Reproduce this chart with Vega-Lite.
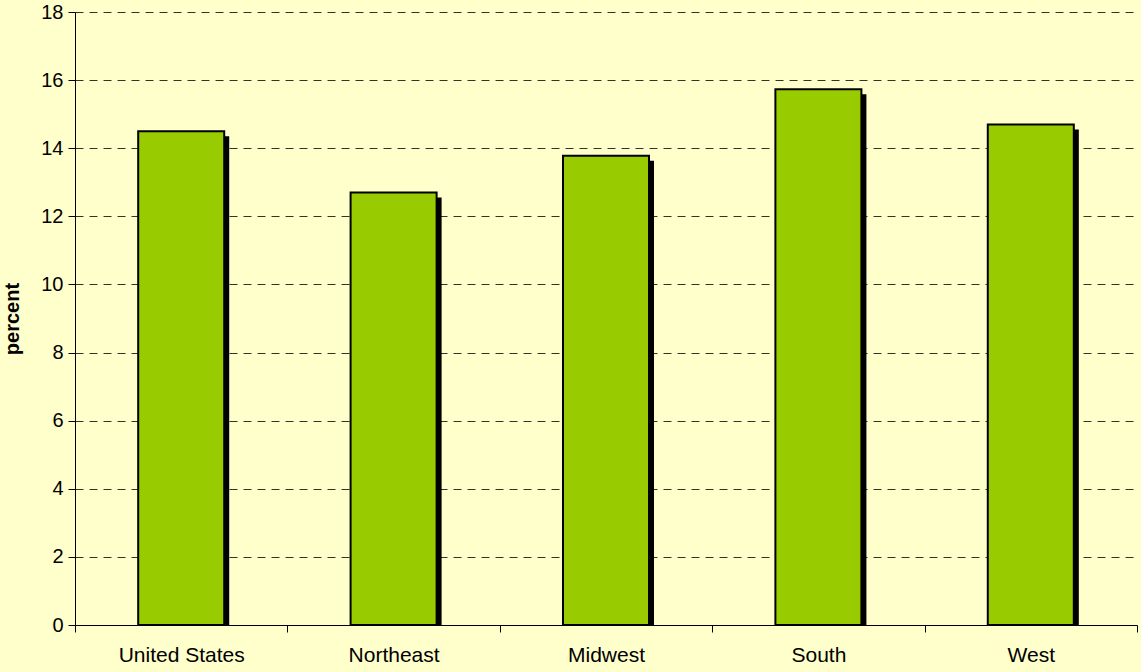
{
  "$schema": "https://vega.github.io/schema/vega-lite/v6.json",
  "width": 1062,
  "height": 613,
  "autosize": {"type": "none"},
  "padding": {"left": 75, "top": 12, "right": 4, "bottom": 47},
  "background": "#FFFFCC",
  "config": {
    "view": {"stroke": null},
    "font": "Liberation Sans"
  },
  "data": {
    "values": [
      {"region": "United States", "percent": 14.5},
      {"region": "Northeast", "percent": 12.7},
      {"region": "Midwest", "percent": 13.78},
      {"region": "South", "percent": 15.73},
      {"region": "West", "percent": 14.7}
    ]
  },
  "encoding": {
    "x": {
      "field": "region",
      "type": "nominal",
      "sort": null,
      "scale": {"paddingInner": 0, "paddingOuter": 0},
      "axis": {
        "title": null,
        "labelAngle": 0,
        "labelFontSize": 21,
        "labelColor": "#000000",
        "labelPadding": 12,
        "tickBand": "extent",
        "tickSize": 7,
        "tickColor": "#000000",
        "domainColor": "#000000",
        "domainWidth": 1
      }
    },
    "y": {
      "field": "percent",
      "type": "quantitative",
      "scale": {"domain": [0, 18], "nice": false},
      "axis": {
        "title": "percent",
        "titleFontSize": 20,
        "titleFontWeight": "bold",
        "titleColor": "#000000",
        "titlePadding": 18,
        "values": [0, 2, 4, 6, 8, 10, 12, 14, 16, 18],
        "labelFontSize": 20,
        "labelColor": "#000000",
        "labelPadding": 5,
        "tickSize": 7,
        "tickColor": "#000000",
        "domainColor": "#000000",
        "grid": true,
        "gridColor": "#000000",
        "gridDash": [8, 6],
        "gridWidth": 1,
        "gridOpacity": 0.8
      }
    }
  },
  "layer": [
    {
      "mark": {"type": "bar", "color": "#000000", "width": {"band": 0.405}, "xOffset": 5, "yOffset": 5, "clip": true}
    },
    {
      "mark": {"type": "bar", "fill": "#99CC00", "stroke": "#000000", "strokeWidth": 2, "width": {"band": 0.405}}
    }
  ]
}
